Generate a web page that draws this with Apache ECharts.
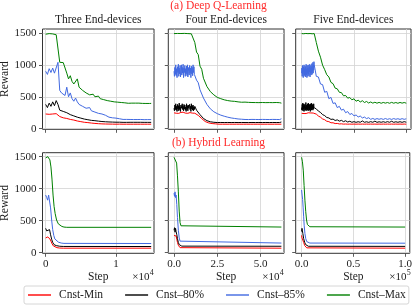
<!DOCTYPE html>
<html><head><meta charset="utf-8">
<script src="https://cdn.jsdelivr.net/npm/echarts@6/dist/echarts.min.js"></script>
<style>html,body{margin:0;padding:0;background:#fff}#c{width:415px;height:305px}</style>
</head><body><div id="c"></div>
<script>
// ---------------- data ----------------
const seriesNames = ['Cnst-Min', 'Cnst\u201380%', 'Cnst\u201385%', 'Cnst\u2013Max'];
const seriesColors = ['#ff0000', '#000000', '#4169e1', '#008000'];
const panelTitles = ['Three End-devices', 'Four End-devices', 'Five End-devices'];
const rowTitles = ['(a) Deep Q-Learning', '(b) Hybrid Learning'];
const yTicks = [0, 500, 1000, 1500];
const xTicks1 = [0, 10000];
const xTickLabels1 = ['0', '1'];
const xTicks2 = [0, 25000, 50000];
const xTickLabels2 = ['0.0', '2.5', '5.0'];
const xTicks3 = [0, 50000, 100000];
const xTickLabels3 = ['0.0', '0.5', '1.0'];
const xExponents = ['4', '4', '5'];

// Deep Q-Learning, Three End-devices (one value every 250 steps)
const dqlStep3 = 250;
const dql3Min = [230,235,225,240,230,228,235,220,190,185,170,175,160,150,145,140,135,125,120,115,110,105,100,98,95,90,88,85,82,80,78,76,75,74,73,72,72,71,71,70,70,70,71,70,70,71,70,70,70,71,70,70,70,71,70,70,70,71,70,70,70];
const dql3P80 = [380,330,400,350,420,360,440,380,290,300,270,290,250,260,220,230,200,210,180,190,165,170,150,155,140,145,130,135,125,120,118,115,112,110,108,106,105,104,103,102,101,100,101,100,99,100,99,100,100,99,100,99,100,99,100,100,99,100,99,100,99];
const dql3P85 = [900,850,940,880,950,870,860,1040,600,560,540,520,650,500,560,470,430,480,420,380,400,350,370,320,300,330,280,270,260,250,240,220,230,200,210,190,180,185,170,160,165,150,155,148,145,143,145,142,144,142,143,141,143,142,144,142,141,143,142,141,142];
const dql3Max = [1480,1475,1490,1470,1485,1478,1472,1488,1040,1045,1035,1040,870,780,830,740,700,720,780,650,620,600,590,560,570,530,520,540,500,490,510,470,480,455,470,440,450,430,440,420,410,415,405,410,400,405,400,398,402,400,398,400,396,400,398,396,398,395,397,395,396];

// Deep Q-Learning, Four / Five End-devices: early phase (one value every 250 steps, 0..11750)
const earlyStep = 250;
const dql4MinEarly = [248,240,255,244,258,242,252,238,256,246,250,240,257,244,252,241,255,247,239,254,245,258,242,250,238,256,244,252,240,257,246,251,241,255,243,258,240,252,246,254,239,256,244,250,242,257,245,249];
const dql4P80Early = [320,280,370,300,390,290,350,270,380,310,360,280,400,300,340,270,370,320,290,390,300,350,280,380,310,370,290,340,270,390,300,360,280,370,320,290,380,300,350,270,390,310,360,290,370,280,340,300];
const dql4P85Early = [900,820,960,850,1000,830,940,800,970,880,1010,820,950,860,990,810,930,1000,840,960,870,1010,800,950,880,990,820,940,860,980,830,1000,810,960,900,840,990,870,950,800,980,860,960,830,1000,880,970,850];
const dql5MinEarly = [240,246,236,248,238,244,235,247,241,237,249,239,245,236,248,240,243,237,247,239,246,235,244,241,238,249,236,245,240,247,237,243,239,248,236,246,241,238,249,240,244,237,247,239,245,242,238,246];
const dql5P80Early = [330,290,380,300,400,280,350,310,390,270,360,320,380,290,340,300,410,280,360,310,370,290,390,300,350,280,400,320,360,290,380,300,340,270,390,310,370,290,400,300,360,320,380,290,350,310,390,330];
const dql5P85Early = [870,950,820,990,860,930,800,970,890,1000,830,940,850,980,810,960,880,1010,840,930,800,990,870,950,820,1000,860,940,830,970,890,1010,810,950,870,990,840,960,880,1020,850,980,900,1040,870,1000,920,1050];

// Deep Q-Learning, Four End-devices (one value every 1000 steps)
const dqlStep4 = 1000;
const dql4Min = [248,252,245,255,250,246,254,249,251,247,253,250,242,226,208,180,158,128,112,93,90,80,80,74,75,71,70,72,70,72,70,72,70,72,70,72,70,72,70,72,70,72,70,72,70,72,70,72,70,72,70,72,70,72,70,72,70,72,70,72,70,72,70];
const dql4P80 = [320,380,290,360,310,390,300,370,330,350,300,380,350,290,280,220,215,160,165,125,135,108,120,100,112,96,106,97,105,96,107,97,104,96,106,97,105,96,106,97,104,96,107,96,105,97,106,96,104,97,106,96,105,97,107,96,104,97,106,96,105,97,104];
const dql4P85 = [880,960,850,990,900,940,860,1000,890,950,870,980,840,760,720,610,580,480,460,380,380,310,320,265,275,235,248,212,225,195,210,180,196,168,184,160,174,152,166,148,162,144,157,143,156,145,158,144,155,143,157,145,156,144,158,143,155,145,157,144,156,143,155];
const dql4Max = [1490,1488,1492,1487,1491,1489,1493,1488,1490,1492,1487,1490,1350,1200,1160,980,930,790,770,660,670,580,600,530,555,490,520,470,495,452,478,440,462,432,455,428,446,420,438,414,405,416,402,412,400,410,401,409,399,408,400,410,398,408,400,409,399,408,400,410,399,407,400];

// Deep Q-Learning, Five End-devices (one value every 2000 steps)
const dqlStep5 = 2000;
const dql5Min = [240,244,236,245,238,243,240,228,198,180,152,140,116,110,92,92,80,82,74,76,71,73,70,72,70,72,70,72,70,72,70,72,70,72,70,72,70,72,70,72,70,72,70,72,70,72,70,72,70,72,70];
const dql5P80 = [320,370,290,360,310,380,340,310,275,255,220,205,175,168,145,150,128,138,118,130,110,124,104,116,100,110,99,109,100,121,100,108,99,110,100,118,99,108,100,109,99,110,100,116,99,108,100,109,99,110,101];
const dql5P85 = [880,960,850,990,900,940,1000,820,810,700,690,570,585,470,490,395,405,330,350,290,305,250,268,222,238,200,215,183,198,168,182,158,172,146,160,145,158,147,157,145,159,146,156,145,158,147,156,145,157,146,155];
const dql5Max = [1490,1488,1492,1489,1491,1487,1490,1350,1215,1120,995,925,845,810,725,705,635,625,570,565,515,520,478,488,452,468,430,447,418,438,410,426,402,418,400,414,399,412,398,411,400,410,398,412,399,410,398,411,400,410,399];

// Hybrid Learning ([step, reward] pairs)
const hyb3Min = [[0,230],[150,240],[300,245],[450,235],[600,215],[750,180],[900,140],[1100,105],[1300,88],[1600,78],[2000,72],[2500,70],[15000,70]];
const hyb3P80 = [[0,380],[150,340],[280,320],[420,370],[550,360],[700,280],[850,210],[1000,160],[1200,125],[1500,110],[2000,100],[2500,97],[15000,96]];
const hyb3P85 = [[0,900],[150,860],[280,820],[420,900],[550,880],[700,700],[850,510],[1000,360],[1150,270],[1300,215],[1500,185],[1800,165],[2200,150],[2600,145],[15000,143]];
const hyb3Max = [[0,1480],[150,1490],[300,1500],[450,1480],[600,1450],[750,1340],[900,1150],[1050,900],[1200,720],[1350,610],[1550,510],[1800,450],[2050,425],[2300,410],[2600,400],[3000,396],[15000,396]];

const hyb4Min = [[0,270],[300,255],[600,280],[900,250],[1200,260],[1600,210],[2000,160],[2500,115],[3000,90],[3500,78],[4500,72],[62000,70]];
const hyb4P80 = [[0,350],[300,390],[600,320],[900,380],[1200,330],[1600,280],[2000,220],[2500,160],[3000,125],[3500,110],[4500,102],[62000,100]];
const hyb4P85 = [[0,930],[300,880],[600,950],[900,860],[1200,900],[1600,750],[2000,550],[2500,350],[3000,230],[3500,180],[4500,155],[62000,150]];
const hyb4Max = [[0,1490],[500,1490],[1000,1470],[1500,1400],[2000,1200],[2500,950],[3000,650],[3500,470],[4000,420],[5000,405],[62000,400]];

const hyb5Min = [[0,270],[400,230],[800,250],[1200,220],[2000,160],[3000,110],[4000,85],[5000,75],[6500,70],[100000,70]];
const hyb5P80 = [[0,330],[400,380],[800,340],[1200,300],[2000,220],[3000,160],[4000,125],[5000,108],[6500,100],[100000,98]];
const hyb5P85 = [[0,980],[500,900],[1000,830],[1500,700],[2000,560],[2500,420],[3200,300],[4000,220],[5000,172],[6000,155],[8000,150],[100000,148]];
const hyb5Max = [[0,1490],[800,1420],[1600,1290],[2400,1050],[3200,820],[4000,640],[4800,510],[5600,440],[6400,415],[8000,405],[100000,400]];

// ---------------- build ----------------
const FONT = '"Liberation Serif", "Times New Roman", serif';
const toPairs = (vals, step) => vals.map((v, i) => [i * step, v]);
// early dense phase followed by the coarse record from step 12000 on
const withEarly = (early, vals, step) => toPairs(early, earlyStep)
  .concat(vals.map((v, i) => [i * step, v]).filter(p => p[0] >= early.length * earlyStep));

const cols = [
  {left: 42.5, width: 111.5, min: -450, max: 15400, ticks: xTicks1, labels: xTickLabels1},
  {left: 168.3, width: 115.7, min: -3300, max: 63500, ticks: xTicks2, labels: xTickLabels2},
  {left: 295.7, width: 115.3, min: -5700, max: 104500, ticks: xTicks3, labels: xTickLabels3}
];
const rows = [{top: 29, height: 100.3}, {top: 152.7, height: 100.6}];

const panelData = [
  [toPairs(dql3Min, dqlStep3), toPairs(dql3P80, dqlStep3), toPairs(dql3P85, dqlStep3), toPairs(dql3Max, dqlStep3)],
  [withEarly(dql4MinEarly, dql4Min, dqlStep4), withEarly(dql4P80Early, dql4P80, dqlStep4), withEarly(dql4P85Early, dql4P85, dqlStep4), toPairs(dql4Max, dqlStep4)],
  [withEarly(dql5MinEarly, dql5Min, dqlStep5), withEarly(dql5P80Early, dql5P80, dqlStep5), withEarly(dql5P85Early, dql5P85, dqlStep5), toPairs(dql5Max, dqlStep5)],
  [hyb3Min, hyb3P80, hyb3P85, hyb3Max],
  [hyb4Min, hyb4P80, hyb4P85, hyb4Max],
  [hyb5Min, hyb5P80, hyb5P85, hyb5Max]
];

const grid = [], xAxis = [], yAxis = [], series = [];
rows.forEach((r, ri) => {
  cols.forEach((c, ci) => {
    const idx = ri * 3 + ci;
    grid.push({left: c.left, top: r.top, width: c.width, height: r.height, show: true,
      borderColor: '#333', borderWidth: 1, backgroundColor: 'transparent', containLabel: false});
    xAxis.push({type: 'value', gridIndex: idx, min: c.min, max: c.max,
      axisLine: {show: false, onZero: false},
      axisTick: {show: true, inside: false, length: 3.5, customValues: c.ticks, lineStyle: {color: '#333', width: 0.8}},
      axisLabel: {show: ri === 1, customValues: c.ticks, margin: 5, fontFamily: FONT, fontSize: 11, color: '#222',
        formatter: v => c.labels[c.ticks.indexOf(v)] ?? ''},
      splitLine: {show: true, lineStyle: {color: '#d3d3d3', width: 0.8}}});
    yAxis.push({type: 'value', gridIndex: idx, min: -10, max: 1562,
      axisLine: {show: false, onZero: false},
      axisTick: {show: true, inside: false, length: 3.5, customValues: yTicks, lineStyle: {color: '#333', width: 0.8}},
      axisLabel: {show: ci === 0, customValues: yTicks, margin: 6, fontFamily: FONT, fontSize: 11, color: '#222',
        formatter: v => String(v)},
      splitLine: {show: true, lineStyle: {color: '#d3d3d3', width: 0.8}}});
    panelData[idx].forEach((d, si) => {
      series.push({type: 'line', name: seriesNames[si], xAxisIndex: idx, yAxisIndex: idx, data: d,
        symbol: 'none', showSymbol: false, silent: true, clip: true,
        lineStyle: {width: 1, color: seriesColors[si]}, itemStyle: {color: seriesColors[si]}});
    });
  });
});

const txt = (text, x, y, opts = {}) => Object.assign({type: 'text', x, y, silent: true,
  style: Object.assign({text, fontFamily: FONT, fontSize: 11.5, fill: '#222', align: 'center', verticalAlign: 'middle'}, opts.style || {})},
  opts.rotation ? {rotation: opts.rotation} : {});

const graphic = [];
graphic.push(txt(rowTitles[0], 218.5, 6, {style: {fill: '#ff2a2a'}}));
graphic.push(txt(rowTitles[1], 218.5, 143, {style: {fill: '#ff2a2a'}}));
cols.forEach((c, ci) => {
  const cx = c.left + c.width / 2;
  const right = c.left + c.width;
  graphic.push(txt(panelTitles[ci], cx, 19.5));
  graphic.push(txt('Step', cx, 277, {style: {fontSize: 11.5}}));
  graphic.push(txt('\u00d710', right - 4.5, 277.5, {style: {fontSize: 11, align: 'right'}}));
  graphic.push(txt(xExponents[ci], right - 4.3, 272.5, {style: {fontSize: 8, align: 'left'}}));
});
rows.forEach(r => {
  graphic.push(txt('Reward', 5, r.top + r.height / 2, {rotation: Math.PI / 2}));
});

const chart = echarts.init(document.getElementById('c'), null, {renderer: 'canvas'});
chart.setOption({
  animation: false,
  backgroundColor: '#fff',
  grid, xAxis, yAxis, series, graphic,
  legend: {data: seriesNames, left: 24, top: 286, orient: 'horizontal', icon: 'rect', itemWidth: 23, itemHeight: 1.4, itemGap: 22,
    padding: [3, 3, 3, 4], borderColor: '#cccccc', borderWidth: 0.8, borderRadius: 2,
    textStyle: {fontFamily: FONT, fontSize: 11.5, color: '#222', padding: [0, 0, 0, 3]}}
});
</script>
</body></html>
